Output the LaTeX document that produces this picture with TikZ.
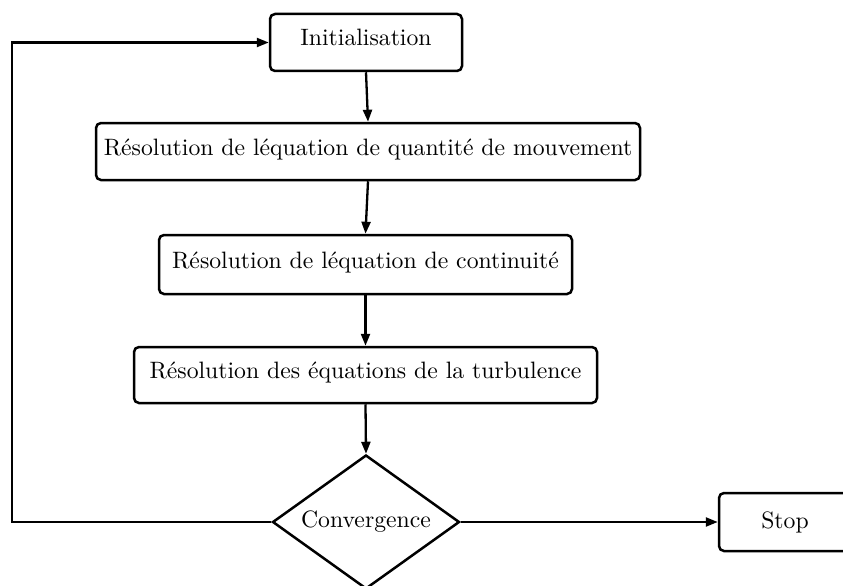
\documentclass[tikz,border=0pt]{standalone}
\usetikzlibrary{shapes.geometric,arrows.meta}
\newcommand{\bigtxt}[1]{\scalebox{2.37}{#1}}
\begin{document}
\begin{tikzpicture}[x=1pt,y=-1pt,
  box/.style={draw,line width=2.5pt,rounded corners=5pt,inner sep=0pt,
    text height=17pt,text depth=10pt},
  endbox/.style={draw,line width=2.5pt,rounded corners=5pt,inner sep=0pt},
  dec/.style={draw,diamond,aspect=1.4,line width=2.5pt,inner sep=0pt,
    minimum width=187pt,minimum height=134pt},
  arr/.style={line width=2.3pt,-{Triangle[length=12pt,width=9pt]}}]
\useasboundingbox (0,0) rectangle (843,586);
\node[box,minimum width=192pt,minimum height=57pt] (init) at (366,42.5) {\bigtxt{Initialisation}};
\node[box,minimum width=544pt,minimum height=57pt] (b2) at (368,151.5) {\bigtxt{Résolution de léquation de quantité de mouvement}};
\node[box,minimum width=413pt,minimum height=59pt] (b3) at (365.5,264.5) {\bigtxt{Résolution de léquation de continuité}};
\node[box,minimum width=463pt,minimum height=56pt] (b4) at (365.5,375) {\bigtxt{Résolution des équations de la turbulence}};
\node[dec] (dia) at (366,522) {\bigtxt{Convergence}};
\node[endbox,minimum width=132pt,minimum height=58pt] (stop) at (785,522) {\bigtxt{Stop}};
\coordinate (c1) at (12,522);
\draw[arr] (init.south) -- (b2.north);
\draw[arr] (b2.south) -- (b3.north);
\draw[arr] (b3.south) -- (b4.north);
\draw[arr] (b4.south) -- (dia.north);
\draw[arr] (dia.east) -- (stop.west);
\draw[arr] (dia.west) -- (c1) |- (init.west);
\end{tikzpicture}
\end{document}
